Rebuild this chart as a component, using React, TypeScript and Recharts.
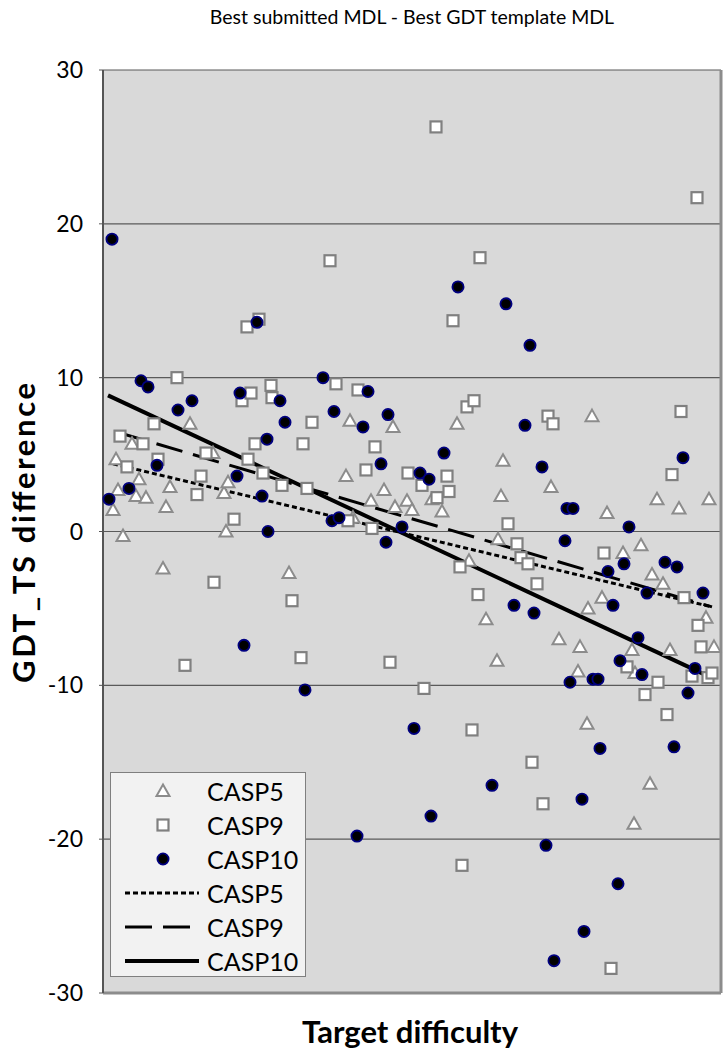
import React from 'react';
import {
  ComposedChart, Scatter, XAxis, YAxis, CartesianGrid, ReferenceLine, Label,
} from 'recharts';

// x = target difficulty (arbitrary units), y = GDT_TS difference
const casp5: [number, number][] = [
  [1.0, 1.4], [1.3, 4.7], [1.5, 2.7], [2.0, -0.3], [2.9, 5.7], [3.3, 2.3], [3.6, 3.4], [4.3, 2.2],
  [6.0, -2.4], [6.3, 1.6], [6.7, 2.9], [8.7, 7.0], [11.0, 5.1], [12.1, 2.5], [12.3, 0.0], [12.5, 3.2],
  [18.6, -2.7], [24.3, 3.6], [24.7, 7.2], [25.0, 0.9], [26.8, 2.0], [28.1, 2.7], [29.0, 6.8], [29.2, 1.6],
  [30.4, 2.0], [30.9, 1.4], [32.9, 2.1], [33.9, 1.3], [35.4, 7.0], [36.6, -1.9], [38.3, -5.7], [39.4, -8.4],
  [39.5, -0.5], [39.8, 2.3], [40.0, 4.6], [44.8, 2.9], [45.6, -7.0], [47.5, -9.1], [47.7, -7.5], [48.4, -12.5],
  [48.5, -5.0], [48.9, 7.5], [49.9, -4.3], [50.4, 1.2], [52.0, -1.4], [52.9, -7.7], [53.1, -19.0], [53.2, -9.2],
  [53.8, -0.9], [54.7, -16.4], [54.9, -2.8], [55.4, 2.1], [56.0, -3.4], [56.7, -7.7], [57.6, 1.5], [60.3, -5.6],
  [60.6, 2.1], [61.1, -7.5],
];

const casp9: [number, number][] = [
  [1.7, 6.2], [2.4, 4.2], [4.0, 5.7], [5.1, 7.0], [5.5, 4.7], [7.4, 10.0], [8.2, -8.7], [9.4, 2.4],
  [9.8, 3.6], [10.3, 5.1], [11.1, -3.3], [13.1, 0.8], [13.9, 8.5], [14.4, 13.3], [14.5, 4.7], [14.8, 9.0],
  [15.2, 5.7], [15.6, 13.8], [16.0, 3.8], [16.8, 9.5], [16.9, 8.7], [17.9, 3.0], [18.9, -4.5], [19.8, -8.2],
  [20.0, 5.7], [20.4, 2.8], [20.9, 7.1], [22.7, 17.6], [23.3, 9.6], [24.5, 0.7], [25.5, 9.2], [26.3, 4.0],
  [26.9, 0.2], [27.2, 5.5], [28.7, -8.5], [30.5, 3.8], [31.9, 3.0], [32.1, -10.2], [33.3, 26.3], [33.4, 2.2],
  [34.4, 3.6], [34.6, 2.6], [35.0, 13.7], [35.7, -2.3], [35.9, -21.7], [36.4, 8.1], [36.9, -12.9], [37.1, 8.5],
  [37.5, -4.1], [37.7, 17.8], [40.5, 0.5], [41.4, -0.8], [41.8, -1.7], [42.5, -2.1], [42.9, -15.0], [43.4, -3.4],
  [44.0, -17.7], [44.5, 7.5], [45.0, 7.0], [50.1, -1.4], [50.8, -28.4], [52.4, -8.8], [54.2, -10.6], [55.5, -9.8],
  [56.4, -11.9], [56.9, 3.7], [57.8, 7.8], [58.1, -4.3], [58.9, -9.4], [59.4, 21.7], [59.5, -6.1], [59.8, -7.5],
  [60.5, -9.5], [60.9, -9.2],
];

const casp10: [number, number][] = [
  [0.9, 19.0], [0.6, 2.1], [2.6, 2.8], [3.8, 9.8], [4.5, 9.4], [5.4, 4.3], [7.5, 7.9], [8.9, 8.5],
  [13.4, 3.6], [13.7, 9.0], [14.1, -7.4], [15.4, 13.6], [15.9, 2.3], [16.4, 6.0], [16.5, 0.0], [17.7, 8.5],
  [18.2, 7.1], [20.2, -10.3], [22.0, 10.0], [22.9, 0.7], [23.1, 7.8], [23.6, 0.9], [25.4, -19.8], [26.0, 6.8],
  [26.5, 9.1], [27.8, 4.4], [28.3, -0.7], [28.5, 7.6], [29.9, 0.3], [31.1, -12.8], [31.7, 3.8], [32.6, 3.4],
  [32.8, -18.5], [34.1, 5.1], [35.5, 15.9], [38.9, -16.5], [40.3, 14.8], [41.1, -4.8], [42.2, 6.9], [42.7, 12.1],
  [43.1, -5.3], [43.9, 4.2], [44.3, -20.4], [45.1, -27.9], [46.2, -0.6], [46.4, 1.5], [47.0, 1.5], [46.7, -9.8],
  [47.9, -17.4], [48.1, -26.0], [49.0, -9.6], [49.5, -9.6], [49.7, -14.1], [50.5, -2.6], [51.0, -4.8], [51.5, -22.9],
  [51.7, -8.4], [52.1, -2.1], [52.6, 0.3], [53.5, -6.9], [53.9, -9.3], [54.4, -4.0], [56.2, -2.0], [57.1, -14.0],
  [57.4, -2.3], [58.0, 4.8], [58.5, -10.5], [59.2, -8.9], [60.0, -4.0],
];

// linear trend end points [x, y]
const trend5: [number, number][] = [[1.0, 4.4], [60.9, -4.9]];
const trend9: [number, number][] = [[1.7, 6.4], [60.9, -4.9]];
const trend10: [number, number][] = [[0.5, 8.85], [60.2, -9.3]];

const yTicks = [-30, -20, -10, 0, 10, 20, 30];
const X_MAX = 61.8;

const FONT = 'Lato, "Open Sans", sans-serif';

const toPts = (arr: [number, number][]) => arr.map(([x, y]) => ({ x, y }));

const Triangle = (p: any) => (
  <polygon
    points={`${p.cx},${p.cy - 6.5} ${p.cx + 6.5},${p.cy + 5} ${p.cx - 6.5},${p.cy + 5}`}
    fill="#fff" stroke="#8c8c8c" strokeWidth={2} />
);
const Square = (p: any) => (
  <rect x={p.cx - 5.5} y={p.cy - 5.5} width={11} height={11} fill="#fff" stroke="#808080" strokeWidth={2.2} />
);
const Dot = (p: any) => (
  <circle cx={p.cx} cy={p.cy} r={5.6} fill="#000" stroke="#000080" strokeWidth={1.8} />
);

const legendRows = [
  { name: 'CASP5', kind: 'tri' },
  { name: 'CASP9', kind: 'sq' },
  { name: 'CASP10', kind: 'dot' },
  { name: 'CASP5', kind: 'short' },
  { name: 'CASP9', kind: 'long' },
  { name: 'CASP10', kind: 'solid' },
];

const LegendBox = () => (
  <div style={{
    position: 'absolute', left: 110, top: 772, width: 196, height: 205,
    background: '#f2f2f2', border: '1px solid #7f7f7f', boxSizing: 'border-box',
  }}>
    {legendRows.map((r, i) => (
      <div key={i} style={{ position: 'absolute', left: 0, top: 1 + i * 34, height: 34, width: 195, display: 'flex', alignItems: 'center' }}>
        <svg width={96} height={34} style={{ display: 'block' }}>
          {r.kind === 'tri' && <Triangle cx={52} cy={17} />}
          {r.kind === 'sq' && <Square cx={52} cy={17} />}
          {r.kind === 'dot' && <Dot cx={52} cy={17} />}
          {r.kind === 'short' && <line x1={14} x2={88} y1={17} y2={17} stroke="#000" strokeWidth={3} strokeDasharray="5 3" />}
          {r.kind === 'long' && <line x1={14} x2={88} y1={17} y2={17} stroke="#000" strokeWidth={3} strokeDasharray="27 11" />}
          {r.kind === 'solid' && <line x1={14} x2={88} y1={17} y2={17} stroke="#000" strokeWidth={4} />}
        </svg>
        <span style={{ fontFamily: FONT, fontSize: 25, color: '#000' }}>{r.name}</span>
      </div>
    ))}
  </div>
);

const YTitle = () => (
  <text x={23} y={533} transform="rotate(-90 23 533)" textAnchor="middle" dominantBaseline="central"
    textLength={300} lengthAdjust="spacing"
    style={{ fontFamily: FONT, fontSize: 31, fontWeight: 700, fill: '#000' }}>
    GDT_TS difference
  </text>
);

const XTitle = () => (
  <text x={410} y={1031} textAnchor="middle" dominantBaseline="central"
    style={{ fontFamily: FONT, fontSize: 31, fontWeight: 700, fill: '#000' }}>
    Target difficulty
  </text>
);

export default function App() {
  return (
    <div style={{ position: 'relative', width: 723, height: 1050, background: '#fff' }}>
      <style>{'body{margin:0}'}</style>
      <div style={{
        position: 'absolute', left: 103, width: 618, top: 5, textAlign: 'center',
        fontFamily: FONT, fontSize: 19.5, color: '#000',
      }}>
        Best submitted MDL - Best GDT template MDL
      </div>
      <ComposedChart width={723} height={1050} margin={{ top: 70, right: 2, bottom: 0, left: 0 }}>
        <CartesianGrid vertical={false} horizontal stroke="#5a5a5a" strokeWidth={1.2} fill="#d9d9d9" />
        <XAxis type="number" dataKey="x" domain={[0, X_MAX]} tick={false} tickLine={false}
          axisLine={{ stroke: '#8c8c8c', strokeWidth: 3 }} height={57}>
          <Label content={XTitle} />
        </XAxis>
        <YAxis type="number" dataKey="y" domain={[-30, 30]} ticks={yTicks} width={103}
          axisLine={{ stroke: '#555', strokeWidth: 2 }} tickLine={{ stroke: '#555' }} tickSize={4}
          tickMargin={16} tick={{ fontFamily: FONT, fontSize: 23, fill: '#000' }} interval={0}>
          <Label content={YTitle} />
        </YAxis>
        <ReferenceLine x={X_MAX} stroke="#8c8c8c" strokeWidth={3} ifOverflow="extendDomain" />
        <Scatter name="CASP5" data={toPts(casp5)} shape={Triangle} isAnimationActive={false} />
        <Scatter name="CASP9" data={toPts(casp9)} shape={Square} isAnimationActive={false} />
        <Scatter name="CASP10" data={toPts(casp10)} shape={Dot} isAnimationActive={false} />
        <ReferenceLine segment={toPts(trend5)} stroke="#000" strokeWidth={3} strokeDasharray="5 3" />
        <ReferenceLine segment={toPts(trend9)} stroke="#000" strokeWidth={3} strokeDasharray="27 11" />
        <ReferenceLine segment={toPts(trend10)} stroke="#000" strokeWidth={4} />
      </ComposedChart>
      <LegendBox />
    </div>
  );
}
